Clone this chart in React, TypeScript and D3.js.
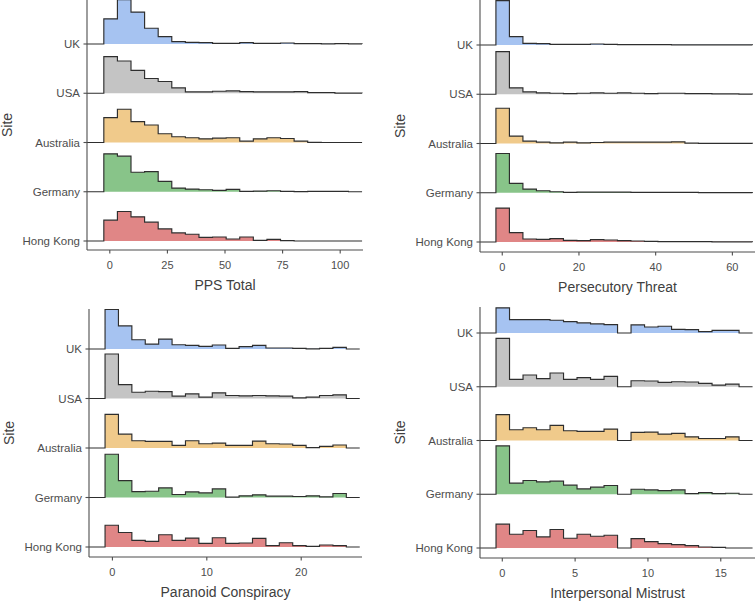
import React from "react";
import * as d3 from "d3";

// sites from top row to bottom row
const sites = ["UK", "USA", "Australia", "Germany", "Hong Kong"];
const siteFills = ["#a6c3f1", "#c4c4c4", "#f0ca8b", "#88c489", "#e08686"];

// bin heights (19 visible bins per site)
const ppsTotal = [
  [75, 132, 95, 47, 22, 7, 5, 4, 2, 2, 4, 2, 2, 3, 1, 1, 0.5, 1, 0.3],
  [109, 96, 68, 44, 35, 16, 4, 4, 6, 7, 5, 4, 4, 4, 5, 2, 2, 0.5, 0.5],
  [74, 99, 62, 52, 26, 17, 14, 11, 13, 14, 4, 11, 14, 12, 4, 0.5, 0, 0, 0],
  [113, 106, 58, 60, 31, 11, 8, 6, 4, 7, 1, 2, 3, 1, 0.5, 1, 1, 1, 0],
  [62, 88, 72, 56, 36, 24, 20, 11, 12, 6, 12, 2, 5, 1, 0, 0, 0, 0, 0],
];
const persecutory = [
  [132, 25, 5, 4, 2, 2, 2, 3, 2, 1, 1, 1, 1, 0.5, 0.5, 0.5, 0.5, 0.5, 0.5],
  [127, 19, 7, 4, 3, 2, 3, 4, 3, 4, 3, 2, 3, 3, 2, 2, 1, 1, 0.5],
  [105, 22, 7, 4, 2, 4, 2, 3, 4, 4, 4, 4, 4, 5, 1, 0.5, 0.5, 0.5, 0.5],
  [117, 28, 11, 6, 3, 1, 2, 2, 2, 2, 1, 1, 1, 1, 1, 0.5, 0.5, 0.5, 0.5],
  [101, 28, 9, 8, 10, 5, 4, 7, 6, 4, 3, 2, 1, 1, 1, 1, 0.5, 0.5, 0.5],
];
const paranoid = [
  [120, 70, 28, 15, 30, 13, 11, 8, 12, 2, 7, 11, 3, 3, 2, 0.5, 2, 5, 0],
  [135, 42, 19, 22, 21, 7, 14, 4, 17, 9, 8, 9, 8, 7, 2, 4, 9, 11, 0],
  [102, 42, 22, 20, 20, 8, 22, 13, 15, 8, 8, 21, 13, 12, 8, 1, 5, 9, 0],
  [131, 51, 18, 19, 29, 9, 17, 14, 26, 1, 5, 8, 4, 4, 3, 5, 2, 12, 0],
  [66, 44, 20, 17, 37, 20, 27, 11, 28, 11, 12, 26, 4, 13, 4, 2, 6, 4, 0],
];
const mistrust = [
  [75, 40, 40, 40, 38, 34, 30, 27, 25, 0, 24, 18, 20, 11, 10, 4, 8, 8, 0],
  [144, 22, 35, 24, 41, 22, 27, 22, 31, 0, 18, 17, 13, 15, 14, 10, 5, 8, 0],
  [77, 32, 38, 32, 45, 29, 27, 27, 34, 0, 24, 25, 19, 21, 11, 6, 6, 11, 0],
  [144, 33, 41, 37, 39, 27, 16, 21, 26, 0, 15, 13, 11, 13, 2, 5, 2, 3, 0],
  [71, 41, 52, 33, 55, 29, 41, 35, 38, 0, 28, 19, 13, 10, 7, 3, 2, 0, 0],
];

const titles = ["PPS Total", "Persecutory Threat", "Paranoid Conspiracy", "Interpersonal Mistrust"];
const binStarts = [-2.6, -1.65, -0.78, -0.43];
const binWidths = [5.9, 3.52, 1.42, 0.927];
const xDomains = [[-9.9, 109.9], [-5.8, 65.9], [-2.48, 26.44], [-1.53, 17.35]];
const xTicks = [[0, 25, 50, 75, 100], [0, 20, 40, 60], [0, 10, 20], [0, 5, 10, 15]];

// panel placement
const panels = [
  { left: 87, right: 363, top: 0, axisY: 250, rowTop: 44, rowBottom: 241 },
  { left: 480, right: 755, top: 0, axisY: 252, rowTop: 45, rowBottom: 242 },
  { left: 89, right: 362, top: 309, axisY: 557, rowTop: 349, rowBottom: 547 },
  { left: 480, right: 755, top: 307, axisY: 558, rowTop: 333, rowBottom: 548 },
];

const FONT = "'Liberation Sans', Arial, Helvetica, sans-serif";
const AXIS = "#4d4d4d";

function Panel({ idx, data }) {
  const p = panels[idx];
  const w = p.right - p.left;
  const x = d3.scaleLinear().domain(xDomains[idx]).range([0, w]);
  const y = d3.scalePoint().domain(sites).range([p.rowTop, p.rowBottom]);
  const spacing = (p.rowBottom - p.rowTop) / (sites.length - 1);
  const maxV = d3.max(data.flat());
  const h = d3.scaleLinear().domain([0, maxV]).range([0, 0.9 * spacing]);
  const start = binStarts[idx];
  const bw = binWidths[idx];
  const clipId = `clip-${idx}`;

  return (
    <g transform={`translate(${p.left},0)`}>
      <clipPath id={clipId}>
        <rect x={0} y={p.top} width={w} height={p.axisY - p.top} />
      </clipPath>
      <g clipPath={`url(#${clipId})`}>
        {sites.map((s, si) => {
          const base = y(s);
          const vals = data[si];
          const steps = [];
          vals.forEach((v, i) => {
            steps.push([start + i * bw, v]);
            steps.push([start + (i + 1) * bw, v]);
          });
          const end = start + vals.length * bw;
          const area = d3
            .area()
            .x((d) => x(d[0]))
            .y0(base)
            .y1((d) => base - h(d[1]));
          const outline = [[xDomains[idx][0], 0], [start, 0], ...steps, [end, 0]];
          const line = d3
            .line()
            .x((d) => x(d[0]))
            .y((d) => base - h(d[1]));
          return (
            <g key={s}>
              <path d={area(steps)} fill={siteFills[si]} stroke="none" />
              <path d={line(outline)} fill="none" stroke="#2e2e2e" strokeWidth={1.15} />
            </g>
          );
        })}
      </g>
      {/* y axis */}
      <line x1={0} x2={0} y1={p.top} y2={p.axisY} stroke={AXIS} strokeWidth={1.1} />
      {sites.map((s) => (
        <g key={s}>
          <line x1={-3.5} x2={0} y1={y(s)} y2={y(s)} stroke={AXIS} strokeWidth={1.1} />
          <text
            x={-7}
            y={y(s)}
            textAnchor="end"
            dominantBaseline="central"
            fontFamily={FONT}
            fontSize={11.5}
            fill="#4d4d4d"
          >
            {s}
          </text>
        </g>
      ))}
      <text
        transform={`translate(-80,${(p.top + p.axisY) / 2}) rotate(-90)`}
        textAnchor="middle"
        dominantBaseline="central"
        fontFamily={FONT}
        fontSize={14}
        fill="#404040"
      >
        Site
      </text>
      {/* x axis */}
      <line x1={0} x2={w} y1={p.axisY} y2={p.axisY} stroke={AXIS} strokeWidth={1.1} />
      {xTicks[idx].map((t) => (
        <g key={t}>
          <line x1={x(t)} x2={x(t)} y1={p.axisY} y2={p.axisY + 3.5} stroke={AXIS} strokeWidth={1.1} />
          <text
            x={x(t)}
            y={p.axisY + 14.5}
            textAnchor="middle"
            dominantBaseline="central"
            fontFamily={FONT}
            fontSize={11}
            fill="#4d4d4d"
          >
            {t}
          </text>
        </g>
      ))}
      <text
        x={w / 2}
        y={p.axisY + 35}
        textAnchor="middle"
        dominantBaseline="central"
        fontFamily={FONT}
        fontSize={14}
        fill="#404040"
      >
        {titles[idx]}
      </text>
    </g>
  );
}

export default function App() {
  const all = [ppsTotal, persecutory, paranoid, mistrust];
  return (
    <svg
      width={756}
      height={601}
      style={{ position: "absolute", left: 0, top: 0, background: "#fff" }}
    >
      <rect width={756} height={601} fill="#fff" />
      {all.map((d, i) => (
        <Panel key={i} idx={i} data={d} />
      ))}
    </svg>
  );
}
